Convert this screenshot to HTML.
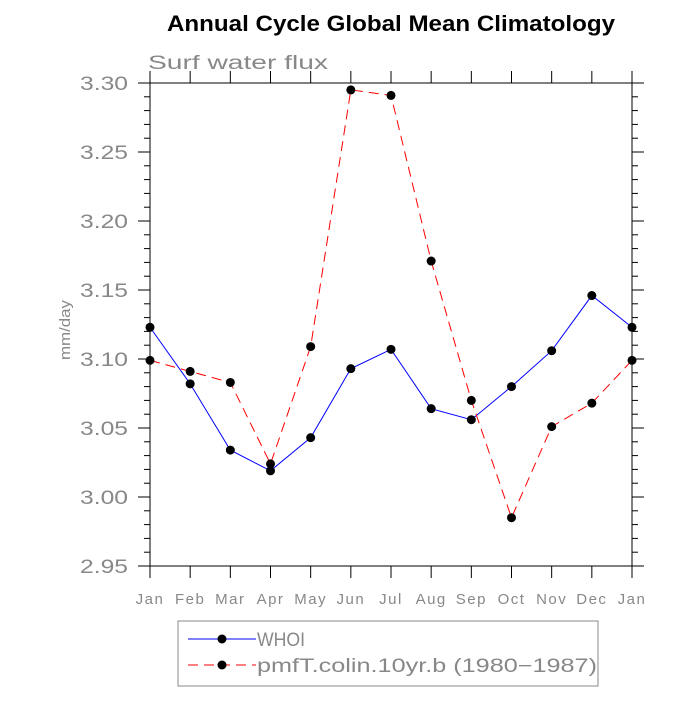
<!DOCTYPE html>
<html><head><meta charset="utf-8"><style>
body{margin:0;background:#fff;}
svg text{font-family:"Liberation Sans",sans-serif;}
</style></head><body>
<svg id="c" width="700" height="700" xmlns="http://www.w3.org/2000/svg">
<text x="167" y="31" textLength="448" lengthAdjust="spacingAndGlyphs" font-size="22" font-weight="bold" fill="#000">Annual Cycle Global Mean Climatology</text>
<text x="148" y="69" textLength="180" lengthAdjust="spacingAndGlyphs" font-size="19" fill="#888">Surf water flux</text>
<text x="70" y="330" textLength="60" lengthAdjust="spacingAndGlyphs" font-size="15" fill="#888" text-anchor="middle" transform="rotate(-90 70 330)">mm/day</text>
<g id="g"></g>
<rect x="178" y="621" width="420" height="65" fill="none" stroke="#888" stroke-width="1"/>
<g>
<line x1="188" y1="639" x2="256" y2="639" stroke="#00f" stroke-width="1"/>
<circle cx="222" cy="639" r="4.5" fill="#000"/>
<text x="257" y="646" textLength="48" lengthAdjust="spacingAndGlyphs" font-size="19" fill="#888">WHOI</text></g>
<g>
<line x1="188" y1="665" x2="256" y2="665" stroke="#f00" stroke-width="1" stroke-dasharray="10,6"/>
<circle cx="222" cy="665" r="4.5" fill="#000"/>
<text x="257" y="672" textLength="340" lengthAdjust="spacingAndGlyphs" font-size="19" fill="#888">pmfT.colin.10yr.b (1980−1987)</text></g>
</svg>
<script>
const months=["Jan","Feb","Mar","Apr","May","Jun","Jul","Aug","Sep","Oct","Nov","Dec","Jan"];
const whoi=[3.123,3.082,3.034,3.019,3.043,3.093,3.107,3.064,3.056,3.080,3.106,3.146,3.123];
const pmft=[3.099,3.091,3.083,3.024,3.109,3.295,3.291,3.171,3.070,2.985,3.051,3.068,3.099];
const yTicks=["2.95","3.00","3.05","3.10","3.15","3.20","3.25","3.30"];
const NS="http://www.w3.org/2000/svg";
const g=document.getElementById('g');
const L=150,R=632,T=83,B=566,ymin=2.95,ymax=3.30;
const xs=i=>L+(R-L)*i/(months.length-1);
const ys=v=>B-(v-ymin)/(ymax-ymin)*(B-T);
function mk(t,a){const e=document.createElementNS(NS,t);for(const k in a)e.setAttribute(k,a[k]);g.appendChild(e);return e;}
const fr=mk('rect',{x:L,y:T,width:R-L,height:B-T,fill:'none',stroke:'#000','stroke-width':1});


months.forEach((m,i)=>{const x=xs(i);
mk('line',{x1:x,y1:B,x2:x,y2:B+12,stroke:'#000'});
mk('line',{x1:x,y1:T,x2:x,y2:T-12,stroke:'#000'});
const t=mk('text',{x:x,y:B+38,'text-anchor':'middle','font-size':15,fill:'#888','letter-spacing':1.5});t.textContent=m;


});
for(let k=0;k<=35;k++){const v=ymin+k*0.01;const y=ys(v);const maj=k%5==0;const len=maj?12:6;
mk('line',{x1:L,y1:y,x2:L-len,y2:y,stroke:'#000'});
mk('line',{x1:R,y1:y,x2:R+len,y2:y,stroke:'#000'});}
yTicks.forEach(s=>{const t=mk('text',{x:L-22,y:ys(parseFloat(s))+7,'text-anchor':'end','font-size':19,fill:'#888',textLength:48,lengthAdjust:'spacingAndGlyphs'});t.textContent=s;


});
function series(d,col,dash,name){
const p=mk('polyline',{points:d.map((v,i)=>xs(i)+','+ys(v)).join(' '),fill:'none',stroke:col,'stroke-width':1,'stroke-dasharray':dash});


d.forEach((v,i)=>{const c=mk('circle',{cx:xs(i),cy:ys(v),r:4.5,fill:'#000'});

});}
series(whoi,'#00f','none','whoi');
series(pmft,'#f00','10,6','pmft');
</script>
</body></html>
